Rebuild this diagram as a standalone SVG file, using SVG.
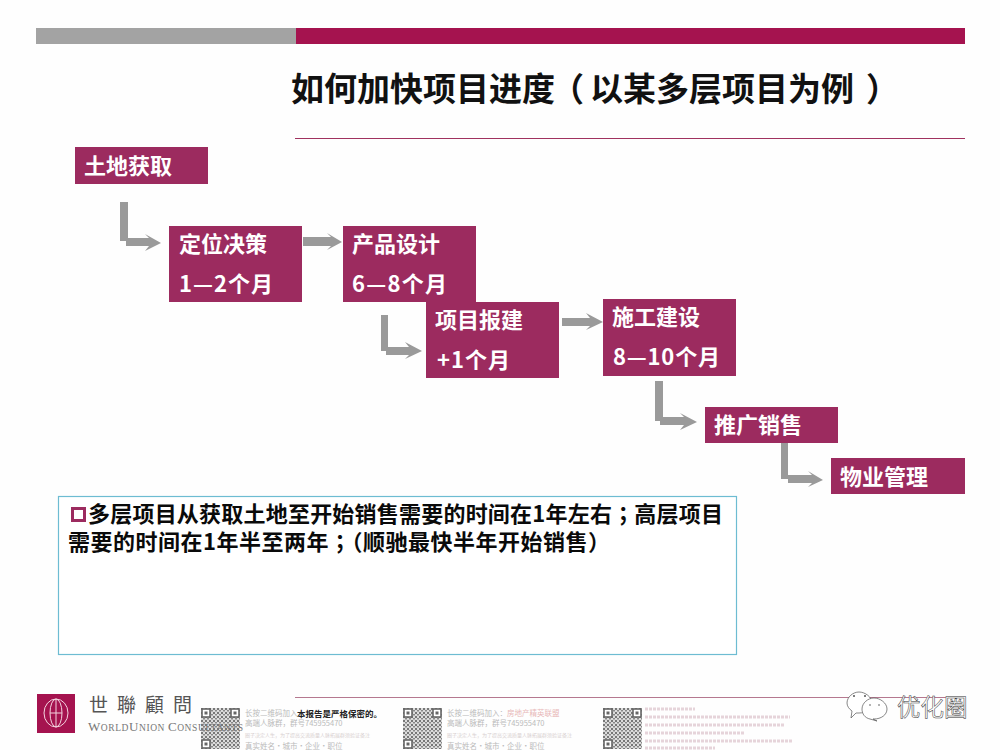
<svg xmlns="http://www.w3.org/2000/svg" xmlns:xlink="http://www.w3.org/1999/xlink" width="1000" height="750" viewBox="0 0 1000 750">
<style>
text{font-family:"Noto Sans CJK SC","Liberation Sans",sans-serif}
.box{fill:#9c2b5f}
.lbl{font-size:22px;font-weight:700;fill:#fff}
.title{font-size:33px;font-weight:700;fill:#111}
.body{font-size:22px;font-weight:700;fill:#0a0a0a}
.tc{font-family:"Noto Sans CJK TC",sans-serif}
.arrow{fill:#9a9a9a}
.foot{font-size:7.500px;fill:#bbb}
.tiny{font-size:5px;fill:#d8d0d0}
.faint{fill:none;stroke:#e6d4da;stroke-width:3;stroke-dasharray:3 1}
</style>
<defs>
<pattern id="qrp" width="4" height="4" patternUnits="userSpaceOnUse">
<rect width="4" height="4" fill="#dcdcdc"/><rect width="2" height="2" fill="#777"/><rect x="2" y="2" width="2" height="1.500" fill="#888"/>
</pattern>
<g id="qr">
<rect width="39" height="41" fill="url(#qrp)"/>
<g fill="#fff" stroke="#666" stroke-width="1.600">
<rect x="1" y="1" width="8" height="8"/><rect x="30" y="1" width="8" height="8"/><rect x="1" y="32" width="8" height="8"/>
</g>
<g fill="#666"><rect x="3.500" y="3.500" width="3" height="3"/><rect x="32.500" y="3.500" width="3" height="3"/><rect x="3.500" y="34.500" width="3" height="3"/></g>
</g>
</defs>
<rect width="1000" height="750" fill="#fefefe"/>
<g id="header">
<rect x="36" y="28" width="260" height="16" fill="#a3a3a3"/>
<rect x="296" y="28" width="669" height="16" fill="#a5134f"/>
<text class="title" y="101"><tspan x="291">如何加快项目进度</tspan><tspan x="551">（</tspan><tspan x="590">以某多层项目为例</tspan><tspan x="866">）</tspan></text>
<rect x="295" y="138" width="670" height="1" fill="#a0325f"/>
</g>
<g id="connectors" class="arrow">
<path d="M120 202h8v36h21l-4-4 16 9-16 8 4-5h-23v-5h-6z"/>
<path d="M303 237h28l-4-4 15 9-15 8 4-4h-28z"/>
<path d="M381 315h7v32h21l-4-5 17 9-17 8 4-4h-23v-4h-5z"/>
<path d="M562 318h28l-4-5 17 9-17 8 4-4h-28z"/>
<path d="M655 381h8v36h21l-4-4 17 9-17 8 4-5h-24v-4h-5z"/>
<path d="M781 438h7v37h24l-4-4 15 9-15 7 4-4h-24v-4h-7z"/>
</g>
<g id="n1"><rect class="box" x="75" y="147" width="133" height="37"/><text class="lbl" x="84" y="174">土地获取</text></g>
<g id="n2"><rect class="box" x="169" y="226" width="133" height="76"/><text class="lbl" x="179" y="252">定位决策</text><text class="lbl" x="179" y="292" textLength="94">1—2个月</text></g>
<g id="n3"><rect class="box" x="343" y="226" width="133" height="76"/><text class="lbl" x="352" y="252">产品设计</text><text class="lbl" x="352" y="292" textLength="95">6—8个月</text></g>
<g id="n4"><rect class="box" x="426" y="302" width="133" height="76"/><text class="lbl" x="435" y="328">项目报建</text><text class="lbl" x="437" y="368" textLength="73">+1个月</text></g>
<g id="n5"><rect class="box" x="603" y="299" width="133" height="77"/><text class="lbl" x="612" y="325">施工建设</text><text class="lbl" x="613" y="365" textLength="107">8—10个月</text></g>
<g id="n6"><rect class="box" x="705" y="407" width="133" height="36"/><text class="lbl" x="714" y="433">推广销售</text></g>
<g id="n7"><rect class="box" x="831" y="458" width="134" height="36"/><text class="lbl" x="840" y="485">物业管理</text></g>
<g id="note">
<rect x="58.500" y="496.500" width="678" height="158" fill="#fff" stroke="#6dbcd2" stroke-width="1.200"/>
<rect x="72.500" y="508.500" width="12" height="12" fill="#fff" stroke="#9c2b5f" stroke-width="3"/>
<text class="body" x="88" y="522" textLength="635">多层项目从获取土地至开始销售需要的时间在1年左右<tspan class="tc">；</tspan>高层项目</text>
<text class="body" x="68" y="550" textLength="542">需要的时间在1年半至两年<tspan class="tc">；</tspan>（顺驰最快半年开始销售）</text>
</g>
<g id="footer">
<rect x="37" y="694" width="38" height="39" fill="#a5134f"/>
<g fill="none" stroke="#f4d4e0" stroke-width="1">
<ellipse cx="56" cy="713" rx="12" ry="14"/><ellipse cx="56" cy="713" rx="6" ry="14"/><path d="M56 699v28M50 713h12"/>
</g>
<text x="89" y="712" font-size="19" fill="#555" letter-spacing="9" style="font-family:'Noto Sans CJK TC','Liberation Serif',serif">世聯顧問</text>
<rect x="295" y="697" width="670" height="1" fill="#b5788f"/>
<use xlink:href="#qr" href="#qr" x="201" y="708"/>
<text x="88" y="731" font-size="9.500" fill="#777" textLength="155" style="font-family:'Liberation Serif',serif"><tspan font-size="13">W</tspan>ORLD<tspan font-size="13">U</tspan>NION <tspan font-size="13">C</tspan>ONSULTANTS</text>
<text class="foot" x="245" y="716">长按二维码加入</text>
<text x="297" y="717" font-size="8.500" font-weight="700" fill="#222">本报告是严格保密的。</text>
<text class="foot" x="245" y="726">高端人脉群，群号745955470</text>
<text class="tiny" x="245" y="737">圈子决定人生，为了提高交流质量人脉拓展群须验证备注</text>
<text class="foot" x="245" y="749">真实姓名·城市·企业·职位</text>
<use xlink:href="#qr" href="#qr" x="403" y="708"/>
<text class="foot" x="447" y="716">长按二维码加入：<tspan fill="#e8b8b8">房地产精英联盟</tspan></text>
<text class="foot" x="447" y="726">高端人脉群，群号745955470</text>
<text class="tiny" x="447" y="737">圈子决定人生，为了提高交流质量人脉拓展群须验证备注</text>
<text class="foot" x="447" y="749">真实姓名·城市·企业·职位</text>
<use xlink:href="#qr" href="#qr" x="603" y="708"/>
<path class="faint" d="M645 709h50M645 717h145M645 725h140M645 733h100M645 741h147M645 748h70"/>
<g fill="#fff" stroke="#555" stroke-width="0.700">
<path d="M847 703c0-6 6-11 12-11s13 5 13 11c0 6-6 10-13 10l-3 0-5 5 1-7c-3-2-5-5-5-8z"/>
<path d="M862 709c0-6 6-11 12-11s13 5 13 11c0 6-6 10-13 10l-1 0 4 2-7-2c-5-1-8-5-8-10z"/>
</g>
<g fill="#555"><circle cx="854" cy="696" r="1"/><circle cx="865" cy="696" r="1"/><circle cx="870" cy="705" r="0.800"/><circle cx="879" cy="705" r="0.800"/></g>
<text x="897" y="716" font-size="23.500" fill="#fff" stroke="#333" stroke-width="0.500">优化圈</text>
</g>
</svg>
